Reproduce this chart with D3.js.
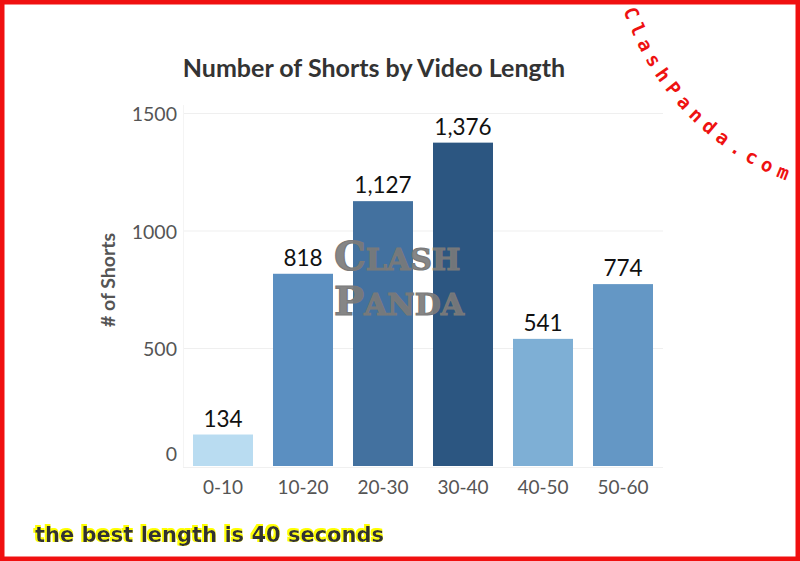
<!DOCTYPE html>
<html><head><meta charset="utf-8">
<script src="https://cdn.jsdelivr.net/npm/d3@7/dist/d3.min.js"></script>
<style>html,body{margin:0;padding:0;background:#fff;}svg{display:block;}</style>
</head><body>
<svg id="chart" width="800" height="561"></svg>
<script>
const categories = ["0-10","10-20","20-30","30-40","40-50","50-60"];
const values = [134, 818, 1127, 1376, 541, 774];
const barColors = ["#b9dcf1","#5b8fc1","#43719f","#2c5681","#7eafd5","#6497c5"];
const yTicks = [0, 500, 1000, 1500];
const title = "Number of Shorts by Video Length";
const yTitle = "# of Shorts";
const note = "the best length is 40 seconds";
const siteMark = "ClashPanda.com";

const svg = d3.select("#chart");
const W = 800, H = 561;
svg.append("rect").attr("width", W).attr("height", H).attr("fill", "#fff");
const defs = svg.append("defs");

const x = d3.scaleBand().domain(categories).range([183, 663]).paddingInner(0.25).paddingOuter(0.125);
const y = d3.scaleLinear().domain([0, 1500]).range([466, 113.5]);

// gridlines
svg.append("g").selectAll("line").data(yTicks.filter(d => d > 0)).join("line")
  .attr("x1", 183).attr("x2", 663).attr("y1", d => y(d)).attr("y2", d => y(d))
  .attr("stroke", "#efefef").attr("stroke-width", 1);
svg.append("line").attr("x1", 183.5).attr("x2", 183.5).attr("y1", 105).attr("y2", 467)
  .attr("stroke", "#f4f4f4");

// bars
svg.append("g").selectAll("rect").data(categories).join("rect")
  .attr("x", d => x(d)).attr("width", x.bandwidth())
  .attr("y", (d, i) => y(values[i])).attr("height", (d, i) => y(0) - y(values[i]))
  .attr("fill", (d, i) => barColors[i]);

// baseline
svg.append("line").attr("x1", 183).attr("x2", 663).attr("y1", 467.5).attr("y2", 467.5).attr("stroke", "#f0f0f0");

// y axis
const yAxis = d3.axisLeft(y).tickValues(yTicks).tickSize(0).tickPadding(0).tickFormat(d3.format("d"));
const gy = svg.append("g").attr("transform", "translate(177,0)").call(yAxis);
gy.select(".domain").remove();
gy.selectAll("text").attr("font-family", "Lato, 'Open Sans', sans-serif").attr("font-size", 19.5)
  .attr("fill", "#555").attr("dy", d => d === 0 ? "-0.28em" : "0.36em");

// x axis
const xAxis = d3.axisBottom(x).tickSize(0).tickPadding(0);
const gx = svg.append("g").attr("transform", "translate(0,476)").call(xAxis);
gx.select(".domain").remove();
gx.selectAll("text").attr("font-family", "Lato, 'Open Sans', sans-serif").attr("font-size", 19)
  .attr("fill", "#555").attr("dy", "0.95em");

// value labels
svg.append("g").selectAll("text").data(categories).join("text")
  .attr("x", d => x(d) + x.bandwidth() / 2)
  .attr("y", (d, i) => y(values[i]) - 8)
  .attr("text-anchor", "middle")
  .attr("font-family", "Lato, 'Open Sans', sans-serif").attr("font-size", 22.5)
  .attr("fill", "#111")
  .text((d, i) => d3.format(",")(values[i]));

// title
svg.append("text").attr("x", 374).attr("y", 77).attr("text-anchor", "middle")
  .attr("font-family", "Lato, 'Open Sans', sans-serif").attr("font-weight", "bold").attr("font-size", 25)
  .attr("fill", "#333").text(title);

// y title
svg.append("text").attr("transform", "translate(115,280) rotate(-90)").attr("text-anchor", "middle")
  .attr("font-family", "Lato, 'Open Sans', sans-serif").attr("font-weight", "bold").attr("font-size", 19.5)
  .attr("fill", "#555").text(yTitle);

// watermark
const wm = svg.append("g").attr("font-family", "'DejaVu Serif', serif").attr("font-weight", "bold")
  .attr("fill", "#7a7a7a").attr("fill-opacity", 0.92).attr("stroke", "#7a7a7a").attr("stroke-width", 1.2);
const w1 = wm.append("text").attr("x", 334).attr("y", 270);
w1.append("tspan").attr("font-size", 40).text("C");
w1.append("tspan").attr("font-size", 30).text("LASH");
const w2 = wm.append("text").attr("x", 334).attr("y", 315);
w2.append("tspan").attr("font-size", 40).text("P");
w2.append("tspan").attr("font-size", 30).text("ANDA");

// curved site mark along an arc centred up-right of the corner
const arcPath = d3.path();
const cx = 886, cy = -78, r = 277;
const a0 = 161.5 * Math.PI / 180, a1 = 95 * Math.PI / 180;
arcPath.moveTo(cx + r * Math.cos(a0), cy + r * Math.sin(a0));
arcPath.arc(cx, cy, r, a0, a1, true);
defs.append("path").attr("id", "arc").attr("d", arcPath.toString());
svg.append("text").attr("font-family", "'DejaVu Sans Mono', monospace").attr("font-weight", "bold")
  .attr("font-size", 19).attr("letter-spacing", 6.4).attr("fill", "#ee1111")
  .append("textPath").attr("href", "#arc").attr("startOffset", 0).text(siteMark);

// annotation: dark text with a yellow offset halo (single text element + filter)
const f = defs.append("filter").attr("id", "halo").attr("x", "-5%").attr("y", "-30%").attr("width", "110%").attr("height", "160%");
f.append("feMorphology").attr("in", "SourceAlpha").attr("operator", "dilate").attr("radius", 1.2).attr("result", "d");
f.append("feOffset").attr("in", "d").attr("dx", -1.5).attr("dy", -1.5).attr("result", "o");
f.append("feFlood").attr("flood-color", "#ffff00").attr("result", "c");
f.append("feComposite").attr("in", "c").attr("in2", "o").attr("operator", "in").attr("result", "yl");
const fm = f.append("feMerge");
fm.append("feMergeNode").attr("in", "yl");
fm.append("feMergeNode").attr("in", "SourceGraphic");
svg.append("text").attr("x", 35).attr("y", 542)
  .attr("font-family", "'DejaVu Sans', sans-serif").attr("font-weight", "bold").attr("font-size", 21)
  .attr("fill", "#333").attr("filter", "url(#halo)").text(note);

// red border
svg.append("rect").attr("x", 2).attr("y", 2).attr("width", W - 4).attr("height", H - 4)
  .attr("fill", "none").attr("stroke", "#f01010").attr("stroke-width", 5);
</script>
</body></html>
